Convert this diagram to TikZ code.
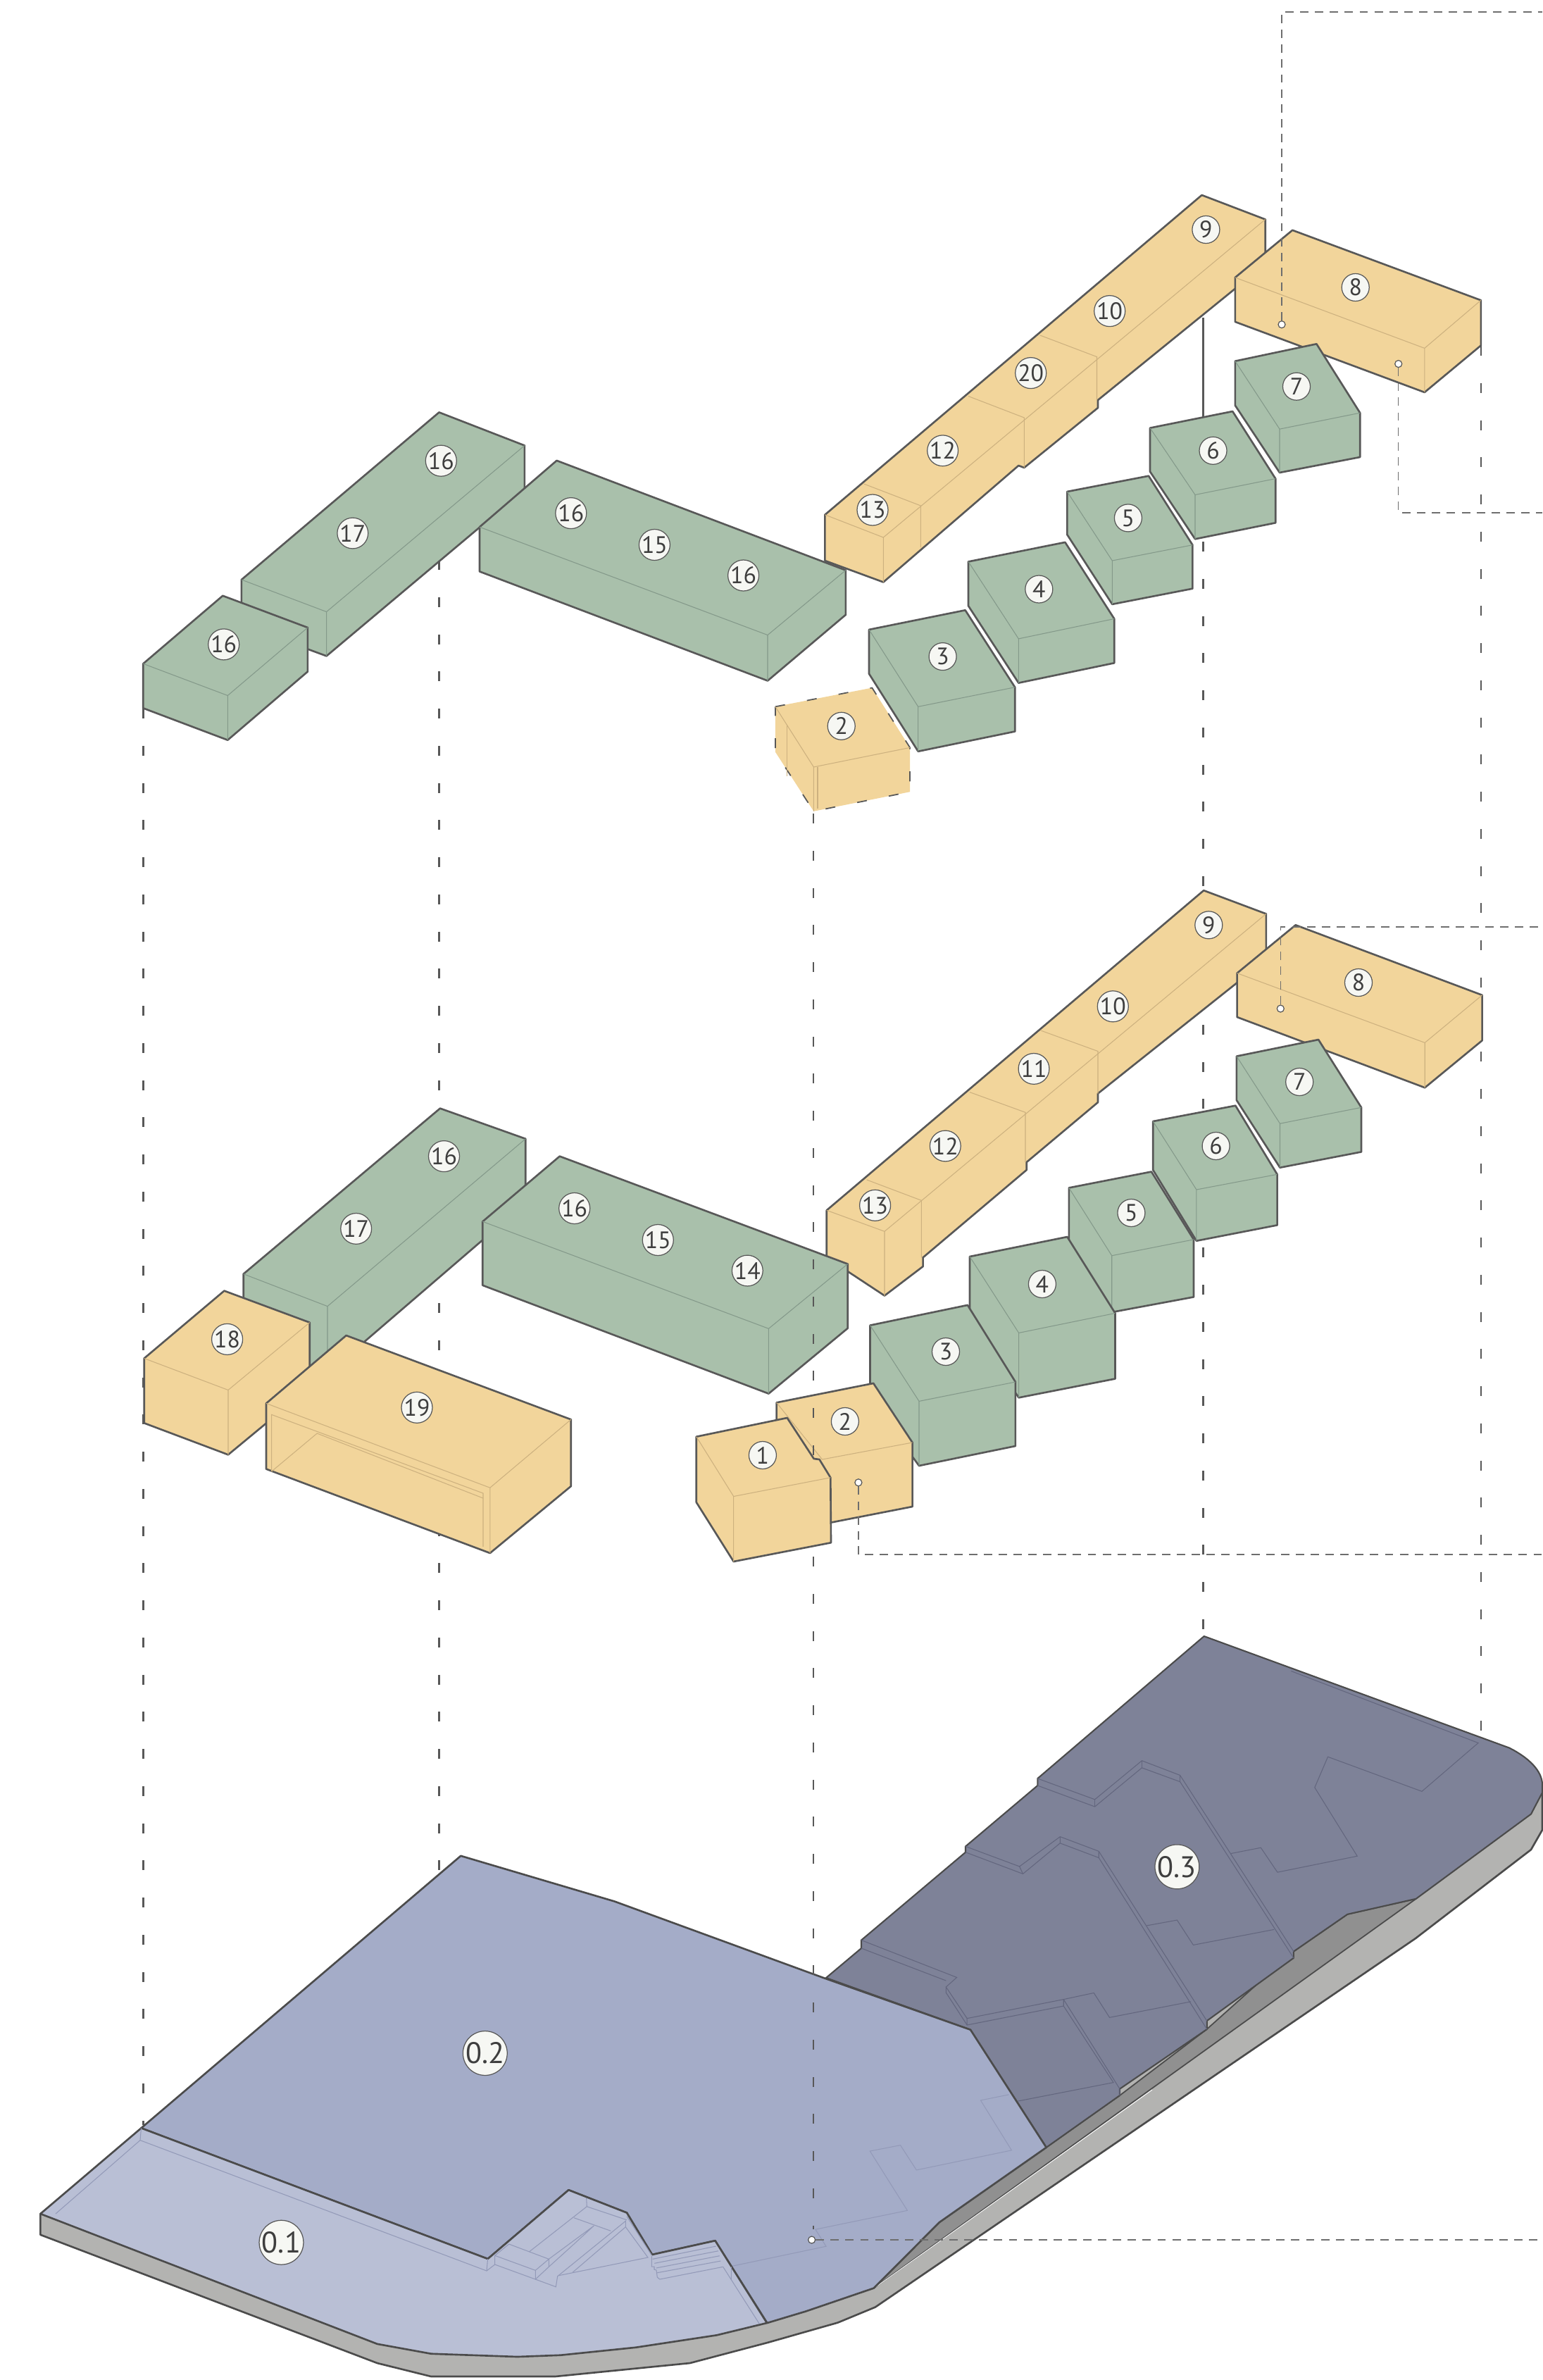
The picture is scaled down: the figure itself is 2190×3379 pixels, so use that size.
\documentclass[tikz,border=0pt]{standalone}
\usepackage{fontspec}
\setmainfont{PT Sans}
\usepackage{xcolor}
\definecolor{Sage}{HTML}{A9C0AB}
\definecolor{SageFold}{HTML}{84998A}
\definecolor{Sand}{HTML}{F2D59B}
\definecolor{SandFold}{HTML}{CDB17F}
\definecolor{Ink}{HTML}{585858}
\definecolor{LeadGrey}{HTML}{6E6E6E}
\definecolor{Paper}{HTML}{F6F7F3}
\definecolor{PlotOne}{HTML}{B9BFD5}
\definecolor{PlotTwo}{HTML}{A4ACC8}
\definecolor{PlotThree}{HTML}{7E8298}
\definecolor{PlotFold}{HTML}{63667E}
\definecolor{BlueFold}{HTML}{939AB8}
\definecolor{SideLight}{HTML}{B3B3B1}
\definecolor{SideDark}{HTML}{909090}

\begin{document}
\begin{tikzpicture}[
    x=0.01cm, y=-0.01cm,
    sagebox/.style={draw=Ink, line width=0.75pt, line join=round, fill=Sage},
    sandbox/.style={draw=Ink, line width=0.75pt, line join=round, fill=Sand},
    foldsage/.style={draw=SageFold, line width=0.3pt},
    foldsand/.style={draw=SandFold, line width=0.3pt},
    foldink/.style={draw=PlotFold, line width=0.3pt},
    foldblue/.style={draw=BlueFold, line width=0.3pt},
    plotedge/.style={draw=Ink!85!black, line width=0.75pt, line join=round},
    drop/.style={draw=Ink, line width=0.7pt, dash pattern=on 4pt off 11pt},
    lead/.style={draw=LeadGrey, line width=0.4pt, dash pattern=on 3.4pt off 2.6pt},
    tagsmall/.style={circle, draw=Ink, line width=0.35pt, fill=Paper, inner sep=0pt, minimum size=0.39cm, font=\fontsize{9.6}{11}\selectfont, text=Ink!70!black},
    tagbig/.style={tagsmall, minimum size=0.6cm, font=\fontsize{12}{14}\selectfont},
    hole/.style={circle, draw=Ink, line width=0.35pt, fill=white, inner sep=0pt, minimum size=0.1cm}
]
\useasboundingbox (0,0) rectangle (2190,3379);

% Drops behind everything
\coordinate (dropA1) at (203.3,1006);
\coordinate (dropA2) at (203.3,3017);
\coordinate (dropB1) at (623.5,795);
\coordinate (dropB2) at (623.5,2655);
\coordinate (dropD1) at (1708.7,769);
\coordinate (dropD2) at (1708.7,2323);
\coordinate (dropE1) at (2102.8,491);
\coordinate (dropE2) at (2102.8,2465);
\draw[drop] (dropA1) -- (dropA2);
\draw[drop] (dropB1) -- (dropB2);
\draw[drop] (dropD1) -- (dropD2);
\draw[drop] (dropE1) -- (dropE2);

% Ground slab
\draw[plotedge, fill=SideLight] (57.4,3143) -- (57.4,3172.8) -- (535.7,3355) -- (612.2,3374) -- (788.2,3374) -- (979.6,3355) -- (1091,3325.6) -- (1189.7,3297.5) -- (1242.9,3275.5) -- (2010,2752) -- (2174,2626) -- (2190,2598) -- (2190,2534) -- cycle;
\draw[plotedge, line width=0.5pt, fill=SideDark] (2010.7,2695.8) -- (1913.3,2717.8) -- (1836.9,2770.6) -- (1713.8,2880.8) -- (1590,2975) -- (1485.7,3048.8) -- (1334,3155) -- (1240.6,3248.6) -- cycle;
\draw[white, line width=0.25pt] (1244,3246.5) -- (1636,2967);

% Plot 0.3
\draw[plotedge, line width=0.6pt, fill=PlotThree] (1709.7,2323) -- (2142.8,2481.4) .. controls (2172,2496) and (2190,2515) .. (2190,2534) -- (2190,2545) -- (2174,2575.5) -- (2010.7,2695.8) -- (1913.3,2717.8) -- (1836.9,2770.6) -- (1836.9,2779.8) -- (1713.8,2869) -- (1713.8,2881) -- (1590,2965.7) -- (1590,2975) -- (1485.7,3048.8) -- (1378,2881.7) -- (1173,2808) -- (1223,2766) -- (1223,2754.5) -- (1371,2629.7) -- (1371,2621.4) -- (1473.3,2535) -- (1473.3,2525) -- cycle;
\draw[foldink] (1473.3,2525) -- (1554.6,2554.8) -- (1621.4,2499.7) -- (1675.6,2520.4) -- (1836.9,2770.6);
\draw[foldink] (1473.3,2535) -- (1554.6,2565) -- (1621.4,2509.8) -- (1675.6,2529.6) -- (1836.9,2779.8);
\draw[foldink] (1554.6,2554.8) -- (1554.6,2565) (1621.4,2499.7) -- (1621.4,2509.8) (1675.6,2520.4) -- (1675.6,2529.6);
\draw[foldink] (1833.4,2372.5) -- (2099,2474.5) -- (2019,2543.3) -- (1885.5,2494.2) -- (1866.8,2537.8) -- (1927.2,2635.2) -- (1813.9,2658.1) -- (1790.3,2623.2) -- (1747.9,2631.5);
\draw[foldink] (1371,2621.4) -- (1447.6,2649.9) -- (1505.3,2607.6) -- (1560.2,2628.3) -- (1713.8,2869.3);
\draw[foldink] (1371,2629.7) -- (1452.5,2660.4) -- (1505.3,2616.8) -- (1560.2,2637.5) -- (1713.8,2881);
\draw[foldink] (1447.6,2649.9) -- (1452.5,2660.4) (1505.3,2607.6) -- (1505.3,2616.8) (1560.2,2628.3) -- (1560.2,2637.5);
\draw[foldink] (1628.3,2733.9) -- (1671.4,2726) -- (1694.4,2761.4) -- (1809,2739.4);
\draw[foldink] (1223,2754.5) -- (1358.6,2807.4) -- (1343.3,2821) -- (1373.2,2865.6) -- (1510.2,2838.6) -- (1553.2,2829.4) -- (1575.5,2864.3) -- (1690.9,2841.8);
\draw[foldink] (1223,2766) -- (1343.3,2812) (1343.3,2821) -- (1343.3,2829) -- (1373.2,2875) -- (1510.2,2848) -- (1581,2956.6) -- (1445.5,2983);
\draw[foldink] (1373.2,2865.6) -- (1373.2,2875) (1510.2,2838.6) -- (1590,2965.7) -- (1590,2975) (1510.2,2838.6) -- (1510.2,2848);

% Plot 0.2
\draw[plotedge, fill=PlotTwo] (200.5,3021.3) -- (654.3,2634.8) -- (872.4,2699.4) -- (1171,2808.6) -- (1378,2881.7) -- (1485.7,3048.8) -- (1334,3155) -- (1240.6,3248.6) -- (1144.2,3281.5) -- (1089.3,3298) -- (1015.5,3181.2) -- (926,3201) -- (890,3141.5) -- (807.4,3109.2) -- (692.6,3207) -- cycle;
\draw[foldblue] (1432.6,2973.8) -- (1392.4,2981.9) -- (1436.4,3052.8) -- (1301.3,3080.9) -- (1278.5,3045.6) -- (1235.3,3054) -- (1288.4,3138.3) -- (1157.9,3165.2) -- (1173,3189.2) -- (1039.5,3217.3);

% Plot 0.1
\draw[plotedge, fill=PlotOne] (57.4,3143) -- (200.5,3021.3) -- (692.6,3207) -- (807.4,3109.2) -- (890,3141.5) -- (926,3201) -- (1015.5,3181.2) -- (1089,3298) -- (1017.8,3315.3) -- (903,3332.7) -- (796,3343.7) -- (734.7,3346) -- (612.2,3341.7) -- (535.7,3327.8) -- cycle;
\draw[foldblue] (79,3143) -- (199,3038.6) -- (691,3224) -- (702.7,3215) -- (702.7,3202.3) -- (722.7,3186);
\draw[foldblue] (200.5,3021.3) -- (199,3038.6) (692.6,3207) -- (691,3224);

% Ramp and steps
\draw[foldblue] (722.7,3186) -- (779.3,3207.3) -- (760.3,3223.3) -- (702.7,3202.3);
\draw[foldblue] (702.7,3215) -- (760.3,3236) -- (760.3,3223.3) (760.3,3236) -- (779.3,3218.3) -- (779.3,3207.3);
\draw[foldblue] (751.7,3196.7) -- (833.3,3132.7) -- (832.7,3121) (833.3,3132.7) -- (890,3151.7) (815,3148.7) -- (867.3,3167.3);
\draw[foldblue] (779.3,3207.3) -- (843.3,3160) (779.3,3218.3) -- (815,3186) -- (843.3,3160);
\draw[foldblue] (760.3,3236) -- (789.3,3246.7) -- (791.7,3231.7) -- (888.3,3153.3) -- (888.3,3161.7) -- (813.3,3226);
\draw[foldblue] (793.3,3230.7) -- (920,3205) -- (888.3,3161.7) (890,3146.7) -- (925.3,3201.7);
\draw[foldblue] (926.7,3207.3) -- (1016.7,3189) (929.3,3213.3) -- (1020,3195.7) (931.7,3220) -- (1021.7,3202.7) (933.3,3226.7) -- (1023.3,3210) (936.7,3236) -- (1026.7,3218.3);
\draw[foldblue] (925.3,3203) -- (925.3,3218) -- (929,3218) -- (929,3222) -- (932,3223) -- (933.3,3233) -- (936.7,3236);
\draw[foldblue] (1026.7,3218.3) -- (1078.3,3299.3) (1038.3,3218.3) -- (1038.3,3236.7);

% Plot tags
\node[tagbig] (plot1) at (399.5,3183.7) {0.1};
\node[tagbig] (plot2) at (688.8,2915) {0.2};
\node[tagbig] (plot3) at (1671.4,2650.3) {0.3};

% Upper bar
\draw[sandbox] (1171.4,730.8) -- (1706.5,277) -- (1796.7,311.5) -- (1796.7,375) -- (1559,568) -- (1559,579) -- (1454.3,664) -- (1446.3,661) -- (1254.3,826.5) -- (1171.4,796) -- cycle;
\draw[foldsand] (1171.4,730.8) -- (1254.3,763) -- (1796.7,311.5) (1254.3,763) -- (1254.3,826.5);
\draw[foldsand] (1226.7,687) -- (1307.4,718) -- (1307.4,777);
\draw[foldsand] (1375,562.5) -- (1454.3,593) -- (1454.3,664);
\draw[foldsand] (1476.8,476) -- (1557.5,506.6) -- (1557.5,568);
\node[tagsmall] (up9) at (1712.4,326) {9};
\node[tagsmall] (up10) at (1575.7,441.6) {10};
\node[tagsmall] (up20) at (1463.7,529.6) {20};
\node[tagsmall] (up12) at (1338.6,639.8) {12};
\node[tagsmall] (up13) at (1239,724) {13};

% Upper 8
\draw[sandbox] (1753.8,394) -- (1835.2,326.8) -- (2102.8,426.3) -- (2102.8,490.5) -- (2022.8,557) -- (1753.8,456.9) -- cycle;
\draw[foldsand] (1753.8,394) -- (2022.8,494.4) -- (2102.8,426.3) (2022.8,494.4) -- (2022.8,557);
\node[tagsmall] (up8) at (1924.7,408) {8};
\coordinate (rodtop) at (1708.7,451.5);
\coordinate (rodend) at (1708.7,595.4);
\draw[Ink, line width=0.7pt] (rodtop) -- (rodend);

% Upper 7
\draw[sagebox] (1753.8,512.7) -- (1869.4,488.3) -- (1931.2,586.2) -- (1931.2,649) -- (1817,671) -- (1753.8,575.5) -- cycle;
\draw[foldsage] (1753.8,512.7) -- (1817,609.2) -- (1931.2,586.2) (1817,609.2) -- (1817,671);
\node[tagsmall] (up7) at (1841,548.7) {7};

% Upper 6
\draw[sagebox] (1633,607.6) -- (1750.2,584) -- (1811.2,679.6) -- (1811.2,742.3) -- (1697,765.3) -- (1633,669.6) -- cycle;
\draw[foldsage] (1633,607.6) -- (1697,702.5) -- (1811.2,679.6) (1697,702.5) -- (1697,765.3);
\node[tagsmall] (up6) at (1722.5,639.8) {6};

% Upper 5
\draw[sagebox] (1515.3,698) -- (1631,675.7) -- (1693.4,773.7) -- (1693.4,835.7) -- (1579.3,857.9) -- (1515.3,759) -- cycle;
\draw[foldsage] (1515.3,698) -- (1579.3,796) -- (1693.4,773.7) (1579.3,796) -- (1579.3,857.9);
\node[tagsmall] (up5) at (1601.9,735.4) {5};

% Upper 4
\draw[sagebox] (1375,797.4) -- (1512.4,769.9) -- (1582.2,878.5) -- (1582.2,941.3) -- (1446.3,969.6) -- (1375,860.2) -- cycle;
\draw[foldsage] (1375,797.4) -- (1446.3,906.9) -- (1582.2,878.5) (1446.3,906.9) -- (1446.3,969.6);
\node[tagsmall] (up4) at (1475.3,836.5) {4};

% Upper 3
\draw[sagebox] (1234,893.9) -- (1370.6,866.3) -- (1441.2,975.7) -- (1441.2,1038.5) -- (1303.7,1066.8) -- (1234,956.6) -- cycle;
\draw[foldsage] (1234,893.9) -- (1303.7,1003.3) -- (1441.2,975.7) (1303.7,1003.3) -- (1303.7,1066.8);
\node[tagsmall] (up3) at (1338.6,932.1) {3};

% Upper 2
\fill[Sand] (1100.9,1003.3) -- (1238.3,976.5) -- (1292.1,1061.4) -- (1292.1,1124.2) -- (1155.4,1151.8) -- (1100.9,1067.6) -- cycle;
\draw[Ink, line width=0.5pt, dash pattern=on 4pt off 9pt] (1100.9,1003.3) -- (1238.3,976.5) -- (1292.1,1061.4) -- (1292.1,1124.2) -- (1155.4,1151.8) -- (1100.9,1067.6) -- cycle;
\draw[foldsand] (1100.9,1003.3) -- (1155.4,1089) -- (1292.1,1061.4) (1155.4,1089) -- (1155.4,1151.8);
\draw[foldsand] (1117.6,1029) -- (1117.6,1102) (1161,1089) -- (1161,1148);
\node[tagsmall] (up2) at (1194.7,1030.8) {2};

% Upper 17 and 16
\draw[sagebox] (342.9,823) -- (623.5,585.4) -- (744.9,632.5) -- (744.9,695) -- (463.6,931.4) -- (342.9,886.8) -- cycle;
\draw[foldsage] (342.9,823) -- (463.6,868.6) -- (744.9,632.5) (463.6,868.6) -- (463.6,931.4);
\node[tagsmall] (up16a) at (626.3,654.2) {16};
\node[tagsmall] (up17) at (500.8,757) {17};
\draw[sagebox] (203.3,942.3) -- (316.3,845.8) -- (436.9,891) -- (436.9,953.5) -- (323.3,1050.7) -- (203.3,1005.4) -- cycle;
\draw[foldsage] (203.3,942.3) -- (323.3,987.5) -- (436.9,891) (323.3,987.5) -- (323.3,1050.7);
\node[tagsmall] (up16b) at (317.7,914.9) {16};

% Upper 15
\draw[sagebox] (681,748.2) -- (790.5,653.9) -- (1200.9,809.6) -- (1200.9,872.8) -- (1090,966.5) -- (681,811.4) -- cycle;
\draw[foldsage] (681,748.2) -- (1090,901.6) -- (1200.9,809.6) (1090,901.6) -- (1090,966.5);
\node[tagsmall] (up16c) at (810.8,728.6) {16};
\node[tagsmall] (up15) at (929.4,773.5) {15};
\node[tagsmall] (up16d) at (1055.6,817) {16};

% Lower bar
\draw[sandbox] (1173.8,1718.3) -- (1709.2,1264.2) -- (1797.8,1297.4) -- (1797.8,1362.4) -- (1559,1552.5) -- (1559,1565) -- (1457.7,1650) -- (1457.7,1661) -- (1310.6,1785.3) -- (1310.6,1798) -- (1256,1839.5) -- (1173.8,1785.3) -- cycle;
\draw[foldsand] (1173.8,1718.3) -- (1256,1748.3) -- (1797.8,1297.4) (1256,1748.3) -- (1256,1839.5);
\draw[foldsand] (1230.7,1675) -- (1308.3,1704.3) -- (1308.3,1785.3);
\draw[foldsand] (1377,1550.6) -- (1456,1579.3) -- (1456,1650);
\draw[foldsand] (1478.3,1463.2) -- (1559,1492.5) -- (1559,1552.5);
\node[tagsmall] (low9) at (1716.3,1313.3) {9};
\node[tagsmall] (low10) at (1580.3,1428.8) {10};
\node[tagsmall] (low11) at (1468,1517.4) {11};
\node[tagsmall] (low12) at (1342.3,1627) {12};
\node[tagsmall] (low13) at (1242.6,1711.3) {13};

% Lower 8
\draw[sandbox] (1756.6,1381.6) -- (1839.7,1313.3) -- (2104.6,1412.8) -- (2104.6,1477.2) -- (2023.2,1544.2) -- (1756.6,1444) -- cycle;
\draw[foldsand] (1756.6,1381.6) -- (2023.2,1480.4) -- (2104.6,1412.8) (2023.2,1480.4) -- (2023.2,1544.2);
\node[tagsmall] (low8) at (1929,1395) {8};

% Lower 7
\draw[sagebox] (1755.9,1499.6) -- (1872.1,1476) -- (1933,1572.3) -- (1933,1635.4) -- (1817.5,1657.7) -- (1755.9,1562) -- cycle;
\draw[foldsage] (1755.9,1499.6) -- (1817.5,1595.2) -- (1933,1572.3) (1817.5,1595.2) -- (1817.5,1657.7);
\node[tagsmall] (low7) at (1845.2,1536) {7};

% Lower 6
\draw[sagebox] (1637.2,1592) -- (1754.3,1569.7) -- (1813.6,1667.3) -- (1813.6,1739.4) -- (1698.9,1761.7) -- (1637.2,1661) -- cycle;
\draw[foldsage] (1637.2,1592) -- (1698.9,1689) -- (1813.6,1667.3) (1698.9,1689) -- (1698.9,1761.7);
\node[tagsmall] (low6) at (1726.6,1627) {6};

% Lower 5
\draw[sagebox] (1517.8,1686.4) -- (1634.9,1663.5) -- (1695,1759.8) -- (1695,1841.4) -- (1578.7,1863) -- (1517.8,1763) -- cycle;
\draw[foldsage] (1517.8,1686.4) -- (1578.7,1782.7) -- (1695,1759.8) (1578.7,1782.7) -- (1578.7,1863);
\node[tagsmall] (low5) at (1606.4,1722) {5};

% Lower 4
\draw[sagebox] (1377,1784) -- (1515.4,1756) -- (1583.5,1864.4) -- (1583.5,1957.5) -- (1446.6,1984.3) -- (1377,1882) -- cycle;
\draw[foldsage] (1377,1784) -- (1446.6,1892.4) -- (1583.5,1864.4) (1446.6,1892.4) -- (1446.6,1984.3);
\node[tagsmall] (low4) at (1479.9,1823) {4};

% Lower 3
\draw[sagebox] (1235.5,1881.6) -- (1373.9,1852.9) -- (1441.9,1962) -- (1441.9,2053) -- (1305,2081) -- (1235.5,1986) -- cycle;
\draw[foldsage] (1235.5,1881.6) -- (1305,1989.4) -- (1441.9,1962) (1305,1989.4) -- (1305,2081);
\node[tagsmall] (low3) at (1343,1919) {3};

% Lower 2
\draw[sandbox] (1102.6,1991.3) -- (1240.2,1963.9) -- (1295.6,2048) -- (1295.6,2139) -- (1167.5,2164) -- (1102.6,2083) -- cycle;
\draw[foldsand] (1102.6,1991.3) -- (1167.5,2072) -- (1295.6,2048);
\node[tagsmall] (low2) at (1199.9,2018) {2};

% Lower 17, 18 and 19
\draw[sagebox] (345.7,1808.7) -- (624.9,1573.6) -- (746.3,1616.8) -- (746.3,1708) -- (465,1950) -- (345.7,1905) -- cycle;
\draw[foldsage] (345.7,1808.7) -- (465,1854.6) -- (746.3,1616.8) (465,1854.6) -- (465,1950);
\node[tagsmall] (low16a) at (630.5,1641.6) {16};
\node[tagsmall] (low17) at (505.7,1744.4) {17};
\draw[sandbox] (204.7,1928.5) -- (318.4,1832.6) -- (439.7,1877.6) -- (439.7,1969.6) -- (324,2065.3) -- (204.7,2020.4) -- cycle;
\draw[foldsand] (204.7,1928.5) -- (324,1973.5) -- (439.7,1877.6) (324,1973.5) -- (324,2065.3);
\node[tagsmall] (low18) at (322.6,1901.4) {18};
\draw[sandbox] (378,1992.4) -- (491.6,1896) -- (810.8,2015.3) -- (810.8,2110) -- (695.8,2205) -- (378,2085.6) -- cycle;
\draw[foldsand] (378,1992.4) -- (695.8,2112.2) -- (810.8,2015.3) (695.8,2112.2) -- (695.8,2205);
\draw[foldsand] (385.7,2089) -- (385.7,2008.4) -- (686,2120) -- (686,2195.8);
\draw[foldsand] (385.7,2089) -- (450.2,2035) -- (686,2127);
\node[tagsmall] (low19) at (592,1998.3) {19};

% Lower 15
\draw[sagebox] (685.3,1734.3) -- (794.7,1641.6) -- (1203.7,1794.5) -- (1203.7,1885.8) -- (1091.4,1978.6) -- (685.3,1824.8) -- cycle;
\draw[foldsage] (685.3,1734.3) -- (1091.4,1886.3) -- (1203.7,1794.5) (1091.4,1886.3) -- (1091.4,1978.6);
\node[tagsmall] (low16b) at (815.7,1715.5) {16};
\node[tagsmall] (low15) at (934.3,1760.5) {15};
\node[tagsmall] (low14) at (1061.3,1804) {14};

% Drop in front of 15 and 2
\coordinate (dropC1) at (1155,1155);
\coordinate (dropC2) at (1155,3165);
\draw[drop] (dropC1) -- (dropC2);

% Lower 1
\draw[sandbox] (988.8,2039.7) -- (1117.7,2013) -- (1155.6,2071) -- (1163.5,2072) -- (1179.3,2097.8) -- (1180,2190.2) -- (1041.7,2217) -- (988.8,2132.9) -- cycle;
\draw[foldsand] (988.8,2039.7) -- (1041.7,2124.5) -- (1179.3,2097.8) (1041.7,2124.5) -- (1041.7,2217);
\node[tagsmall] (low1) at (1082.9,2066) {1};

% Leaders
\node[hole] (holeA) at (1820,460.7) {};
\coordinate (cornerA) at (1820,17);
\coordinate (endA) at (2190,17);
\draw[lead] (holeA) -- (cornerA) -- (endA);
\node[hole] (holeB) at (1985.7,516.6) {};
\coordinate (cornerB) at (1985.7,727.8);
\coordinate (endB) at (2190,727.8);
\draw[lead] (holeB) -- (cornerB) -- (endB);
\node[hole] (holeC) at (1818.3,1432) {};
\coordinate (cornerC) at (1818.3,1316);
\coordinate (endC) at (2190,1316);
\draw[lead] (holeC) -- (cornerC) -- (endC);
\node[hole] (holeD) at (1218.9,2104.8) {};
\coordinate (cornerD) at (1218.9,2206.8);
\coordinate (endD) at (2190,2206.8);
\draw[lead] (holeD) -- (cornerD) -- (endD);
\node[hole] (holeE) at (1152.6,3180) {};
\coordinate (endE) at (2190,3180);
\draw[lead] (holeE) -- (endE);

\end{tikzpicture}
\end{document}
